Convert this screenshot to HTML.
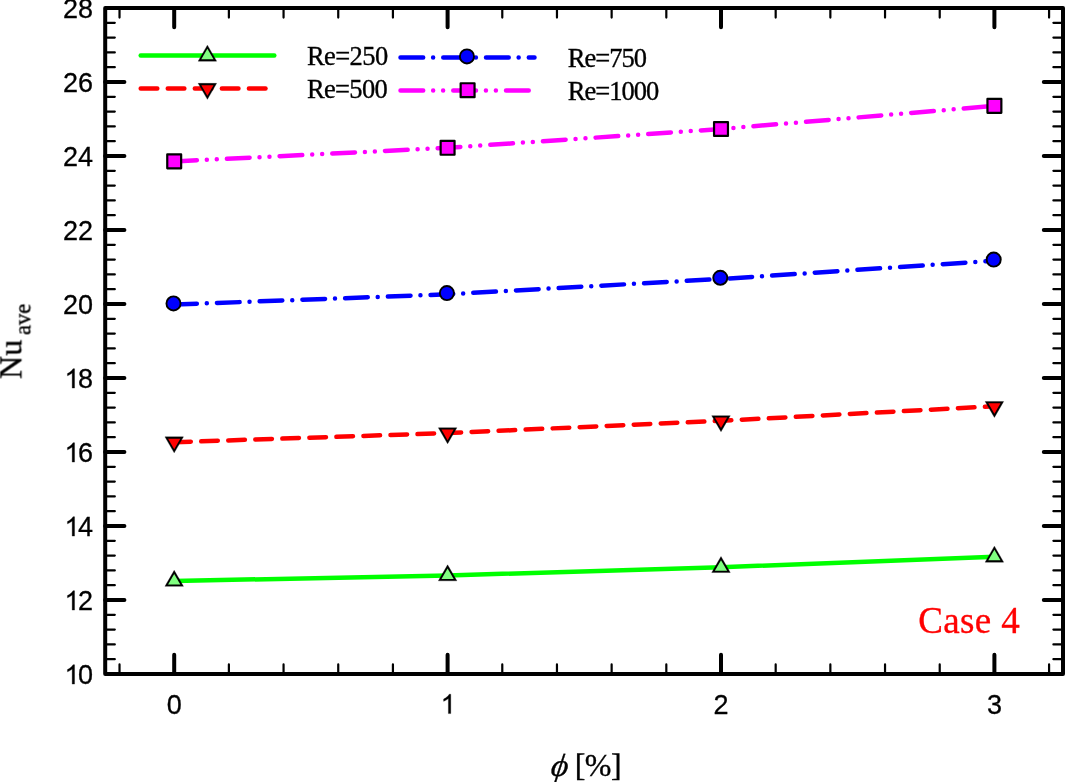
<!DOCTYPE html>
<html><head><meta charset="utf-8"><style>
html,body{margin:0;padding:0;background:#fff;}
svg{display:block;}
.s{font-family:"Liberation Sans",sans-serif;font-size:27px;fill:#000;stroke:#000;stroke-width:0.3px;}
.r{font-family:"Liberation Serif",serif;font-size:26.5px;fill:#000;stroke:#000;stroke-width:0.35px;}
.c{font-family:"Liberation Serif",serif;font-size:37px;fill:#FF0000;stroke:#FF0000;stroke-width:0.35px;}
.t{font-family:"Liberation Serif",serif;font-size:32px;fill:#000;stroke:#000;stroke-width:0.35px;}
.sub{font-size:22.6px;}
</style></head><body>
<svg width="1065" height="782" viewBox="0 0 1065 782">
<rect width="1065" height="782" fill="#fff"/>
<path d="M174.20 674.0V654.8M174.20 8.0V27.2M447.60 674.0V654.8M447.60 8.0V27.2M721.00 674.0V654.8M721.00 8.0V27.2M994.40 674.0V654.8M994.40 8.0V27.2M105.2 600.00H124.4M1063.0 600.00H1043.8M105.2 526.00H124.4M1063.0 526.00H1043.8M105.2 452.00H124.4M1063.0 452.00H1043.8M105.2 378.00H124.4M1063.0 378.00H1043.8M105.2 304.00H124.4M1063.0 304.00H1043.8M105.2 230.00H124.4M1063.0 230.00H1043.8M105.2 156.00H124.4M1063.0 156.00H1043.8M105.2 82.00H124.4M1063.0 82.00H1043.8" stroke="#000" stroke-width="4.0" stroke-linecap="round" fill="none"/>
<path d="M119.52 674.0V664.4M119.52 8.0V17.6M228.88 674.0V664.4M228.88 8.0V17.6M283.56 674.0V664.4M283.56 8.0V17.6M338.24 674.0V664.4M338.24 8.0V17.6M392.92 674.0V664.4M392.92 8.0V17.6M502.28 674.0V664.4M502.28 8.0V17.6M556.96 674.0V664.4M556.96 8.0V17.6M611.64 674.0V664.4M611.64 8.0V17.6M666.32 674.0V664.4M666.32 8.0V17.6M775.68 674.0V664.4M775.68 8.0V17.6M830.36 674.0V664.4M830.36 8.0V17.6M885.04 674.0V664.4M885.04 8.0V17.6M939.72 674.0V664.4M939.72 8.0V17.6M1049.08 674.0V664.4M1049.08 8.0V17.6M105.2 659.20H114.8M1063.0 659.20H1053.4M105.2 644.40H114.8M1063.0 644.40H1053.4M105.2 629.60H114.8M1063.0 629.60H1053.4M105.2 614.80H114.8M1063.0 614.80H1053.4M105.2 585.20H114.8M1063.0 585.20H1053.4M105.2 570.40H114.8M1063.0 570.40H1053.4M105.2 555.60H114.8M1063.0 555.60H1053.4M105.2 540.80H114.8M1063.0 540.80H1053.4M105.2 511.20H114.8M1063.0 511.20H1053.4M105.2 496.40H114.8M1063.0 496.40H1053.4M105.2 481.60H114.8M1063.0 481.60H1053.4M105.2 466.80H114.8M1063.0 466.80H1053.4M105.2 437.20H114.8M1063.0 437.20H1053.4M105.2 422.40H114.8M1063.0 422.40H1053.4M105.2 407.60H114.8M1063.0 407.60H1053.4M105.2 392.80H114.8M1063.0 392.80H1053.4M105.2 363.20H114.8M1063.0 363.20H1053.4M105.2 348.40H114.8M1063.0 348.40H1053.4M105.2 333.60H114.8M1063.0 333.60H1053.4M105.2 318.80H114.8M1063.0 318.80H1053.4M105.2 289.20H114.8M1063.0 289.20H1053.4M105.2 274.40H114.8M1063.0 274.40H1053.4M105.2 259.60H114.8M1063.0 259.60H1053.4M105.2 244.80H114.8M1063.0 244.80H1053.4M105.2 215.20H114.8M1063.0 215.20H1053.4M105.2 200.40H114.8M1063.0 200.40H1053.4M105.2 185.60H114.8M1063.0 185.60H1053.4M105.2 170.80H114.8M1063.0 170.80H1053.4M105.2 141.20H114.8M1063.0 141.20H1053.4M105.2 126.40H114.8M1063.0 126.40H1053.4M105.2 111.60H114.8M1063.0 111.60H1053.4M105.2 96.80H114.8M1063.0 96.80H1053.4M105.2 67.20H114.8M1063.0 67.20H1053.4M105.2 52.40H114.8M1063.0 52.40H1053.4M105.2 37.60H114.8M1063.0 37.60H1053.4M105.2 22.80H114.8M1063.0 22.80H1053.4" stroke="#000" stroke-width="2.2" stroke-linecap="round" fill="none"/>
<rect x="105.2" y="8.0" width="957.8" height="666.0" fill="none" stroke="#000" stroke-width="4.0" stroke-linejoin="round"/>
<path transform="translate(64.50 684.10) scale(0.01318 -0.01318)" d="M763 0H583V1147Q518 1085 412 1023Q306 961 222 930V1104Q373 1175 486 1276Q599 1377 646 1472H763Z" fill="#000" stroke="#000" stroke-width="22.8"/>
<path transform="translate(64.50 610.10) scale(0.01318 -0.01318)" d="M763 0H583V1147Q518 1085 412 1023Q306 961 222 930V1104Q373 1175 486 1276Q599 1377 646 1472H763Z" fill="#000" stroke="#000" stroke-width="22.8"/>
<path transform="translate(64.50 536.10) scale(0.01318 -0.01318)" d="M763 0H583V1147Q518 1085 412 1023Q306 961 222 930V1104Q373 1175 486 1276Q599 1377 646 1472H763Z" fill="#000" stroke="#000" stroke-width="22.8"/>
<path transform="translate(64.50 462.10) scale(0.01318 -0.01318)" d="M763 0H583V1147Q518 1085 412 1023Q306 961 222 930V1104Q373 1175 486 1276Q599 1377 646 1472H763Z" fill="#000" stroke="#000" stroke-width="22.8"/>
<path transform="translate(64.50 388.10) scale(0.01318 -0.01318)" d="M763 0H583V1147Q518 1085 412 1023Q306 961 222 930V1104Q373 1175 486 1276Q599 1377 646 1472H763Z" fill="#000" stroke="#000" stroke-width="22.8"/>
<path transform="translate(440.70 713.60) scale(0.01318 -0.01318)" d="M763 0H583V1147Q518 1085 412 1023Q306 961 222 930V1104Q373 1175 486 1276Q599 1377 646 1472H763Z" fill="#000" stroke="#000" stroke-width="22.8"/>
<path d="M174.20 581.00 L447.60 575.50 L721.00 567.20 L994.40 556.80" stroke="#00FF00" stroke-width="4.5" stroke-linecap="round" stroke-linejoin="round" fill="none"/>
<path d="M174.20 442.20 L447.60 433.10 L721.00 420.80 L994.40 406.30" stroke="#FF0000" stroke-width="4.5" stroke-linecap="round" stroke-linejoin="round" fill="none" stroke-dasharray="16.6 10.45"/>
<path d="M174.20 304.60 L447.60 294.25 L721.00 278.95 L994.40 260.75" stroke="#0000FF" stroke-width="4.5" stroke-linecap="round" stroke-linejoin="round" fill="none" stroke-dasharray="22.67 9.95 0 10.14"/>
<path d="M174.20 161.40 L447.60 147.80 L721.00 129.00 L994.40 105.90" stroke="#FF00FF" stroke-width="4.5" stroke-linecap="round" stroke-linejoin="round" fill="none" stroke-dasharray="22.7 9.96 0 9.96 0 10.14"/>
<path d="M174.20 570.34L183.45 586.34L164.95 586.34Z" fill="#000" stroke="#000" stroke-width="0.3" stroke-linejoin="round"/><path d="M174.20 573.96L180.30 584.52L168.09 584.52Z" fill="#80FF80"/>
<path d="M447.60 564.84L456.85 580.84L438.35 580.84Z" fill="#000" stroke="#000" stroke-width="0.3" stroke-linejoin="round"/><path d="M447.60 568.46L453.70 579.02L441.49 579.02Z" fill="#80FF80"/>
<path d="M721.00 556.54L730.25 572.54L711.75 572.54Z" fill="#000" stroke="#000" stroke-width="0.3" stroke-linejoin="round"/><path d="M721.00 560.16L727.11 570.72L714.89 570.72Z" fill="#80FF80"/>
<path d="M994.40 546.14L1003.65 562.14L985.15 562.14Z" fill="#000" stroke="#000" stroke-width="0.3" stroke-linejoin="round"/><path d="M994.40 549.76L1000.50 560.32L988.29 560.32Z" fill="#80FF80"/>
<path d="M174.20 452.86L183.45 436.86L164.95 436.86Z" fill="#000" stroke="#000" stroke-width="0.3" stroke-linejoin="round"/><path d="M174.20 449.24L180.30 438.68L168.09 438.68Z" fill="#FF0000"/>
<path d="M447.60 443.76L456.85 427.76L438.35 427.76Z" fill="#000" stroke="#000" stroke-width="0.3" stroke-linejoin="round"/><path d="M447.60 440.14L453.70 429.58L441.49 429.58Z" fill="#FF0000"/>
<path d="M721.00 431.66L730.25 415.66L711.75 415.66Z" fill="#000" stroke="#000" stroke-width="0.3" stroke-linejoin="round"/><path d="M721.00 428.04L727.11 417.48L714.89 417.48Z" fill="#FF0000"/>
<path d="M994.40 417.46L1003.65 401.46L985.15 401.46Z" fill="#000" stroke="#000" stroke-width="0.3" stroke-linejoin="round"/><path d="M994.40 413.84L1000.50 403.28L988.29 403.28Z" fill="#FF0000"/>
<circle cx="173.50" cy="303.45" r="7.05" fill="#0000FF" stroke="#000" stroke-width="1.9"/>
<circle cx="446.90" cy="293.10" r="7.05" fill="#0000FF" stroke="#000" stroke-width="1.9"/>
<circle cx="720.30" cy="277.80" r="7.05" fill="#0000FF" stroke="#000" stroke-width="1.9"/>
<circle cx="993.70" cy="259.60" r="7.05" fill="#0000FF" stroke="#000" stroke-width="1.9"/>
<rect x="167.25" y="154.45" width="13.90" height="13.90" fill="#FF00FF" stroke="#000" stroke-width="2.2" stroke-linejoin="round"/>
<rect x="440.65" y="140.85" width="13.90" height="13.90" fill="#FF00FF" stroke="#000" stroke-width="2.2" stroke-linejoin="round"/>
<rect x="714.05" y="122.05" width="13.90" height="13.90" fill="#FF00FF" stroke="#000" stroke-width="2.2" stroke-linejoin="round"/>
<rect x="987.45" y="98.95" width="13.90" height="13.90" fill="#FF00FF" stroke="#000" stroke-width="2.2" stroke-linejoin="round"/>
<path d="M140.7 55.6H274.3" stroke="#00FF00" stroke-width="4.5" stroke-linecap="round" stroke-linejoin="round" fill="none"/>
<path d="M207.40 45.14L216.65 61.14L198.15 61.14Z" fill="#000" stroke="#000" stroke-width="0.3" stroke-linejoin="round"/><path d="M207.40 48.76L213.50 59.32L201.30 59.32Z" fill="#80FF80"/>
<path d="M140.7 88.4H274.3" stroke="#FF0000" stroke-width="4.5" stroke-linecap="round" stroke-linejoin="round" fill="none" stroke-dasharray="16.6 10.45"/>
<path d="M207.40 99.36L216.65 83.36L198.15 83.36Z" fill="#000" stroke="#000" stroke-width="0.3" stroke-linejoin="round"/><path d="M207.40 95.74L213.50 85.18L201.30 85.18Z" fill="#FF0000"/>
<path d="M400.5 57.4H534.5" stroke="#0000FF" stroke-width="4.5" stroke-linecap="round" stroke-linejoin="round" fill="none" stroke-dasharray="22.67 9.95 0 10.14"/>
<circle cx="466.95" cy="56.40" r="7.05" fill="#0000FF" stroke="#000" stroke-width="1.9"/>
<path d="M400.5 90.4H534.5" stroke="#FF00FF" stroke-width="4.5" stroke-linecap="round" stroke-linejoin="round" fill="none" stroke-dasharray="22.7 9.96 0 9.96 0 10.14"/>
<rect x="460.65" y="83.25" width="13.90" height="13.90" fill="#FF00FF" stroke="#000" stroke-width="2.2" stroke-linejoin="round"/>
<g style="opacity:0.999">
<text x="93.1" y="684.10" class="s" text-anchor="end">0</text>
<text x="93.1" y="610.10" class="s" text-anchor="end">2</text>
<text x="93.1" y="536.10" class="s" text-anchor="end">4</text>
<text x="93.1" y="462.10" class="s" text-anchor="end">6</text>
<text x="93.1" y="388.10" class="s" text-anchor="end">8</text>
<text x="93.1" y="314.10" class="s" text-anchor="end">20</text>
<text x="93.1" y="240.10" class="s" text-anchor="end">22</text>
<text x="93.1" y="166.10" class="s" text-anchor="end">24</text>
<text x="93.1" y="92.10" class="s" text-anchor="end">26</text>
<text x="93.1" y="18.10" class="s" text-anchor="end">28</text>
<text x="174.20" y="713.6" class="s" text-anchor="middle">0</text>
<text x="721.00" y="713.6" class="s" text-anchor="middle">2</text>
<text x="994.40" y="713.6" class="s" text-anchor="middle">3</text>
<text x="307" y="65" class="r" letter-spacing="-0.6">Re=250</text>
<text x="307" y="97.8" class="r" letter-spacing="-0.68">Re=500</text>
<text x="567.7" y="66.7" class="r" letter-spacing="-0.96">Re=750</text>
<text x="567.7" y="99.8" class="r" letter-spacing="-0.97">Re=1000</text>
<text x="918.3" y="633.3" class="c" letter-spacing="0.35">Case 4</text>
<text transform="translate(21.4 378.5) rotate(-90)" x="-0.4" class="t">Nu<tspan class="sub" dx="4.8" dy="8.7">ave</tspan></text>
<text transform="translate(550 775.6) skewX(-8) scale(1.04 1)" class="t" font-style="italic">&#x3D5;</text>
<text x="574.8" y="775.8" class="t" letter-spacing="-0.6">[%]</text>
</g>
</svg>
</body></html>
